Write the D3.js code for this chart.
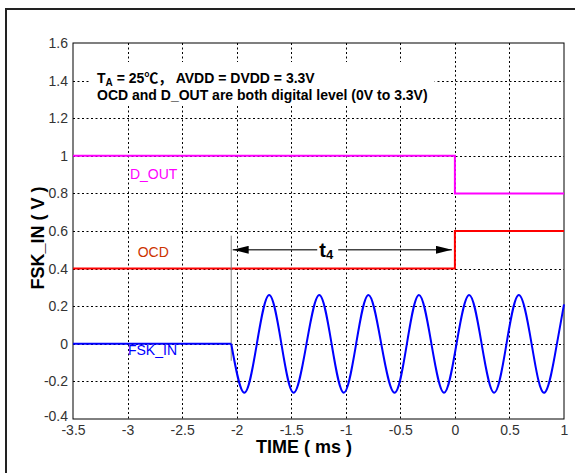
<!DOCTYPE html>
<html>
<head>
<meta charset="utf-8">
<script src="https://cdn.jsdelivr.net/npm/d3@7.9.0/dist/d3.min.js"></script>
<style>
  body { margin: 0; background: #fff; }
  svg { display: block; font-family: Arial, "Liberation Sans", "Noto Sans CJK SC", sans-serif; }
</style>
</head>
<body>
<div id="chart"></div>
<script>
// data
const xTicks = [-3.5, -3, -2.5, -2, -1.5, -1, -0.5, 0, 0.5, 1];
const yTicks = [-0.4, -0.2, 0, 0.2, 0.4, 0.6, 0.8, 1, 1.2, 1.4, 1.6];

const doutT = [-3.5, 0, 0, 1];
const doutV = [1, 1, 0.8, 0.8];

const ocdT = [-3.5, 0, 0, 1];
const ocdV = [0.4, 0.4, 0.6, 0.6];

// FSK_IN: flat until burst starts, then peaks / troughs / zero crossings
const fskFlatT = [-3.5, -2.05];
const fskFlatV = [0, 0];
const fskT = [-2.05, -1.93, -1.815, -1.702, -1.59, -1.478, -1.36, -1.243, -1.13, -1.018,
  -0.905, -0.792, -0.675, -0.553, -0.44, -0.329, -0.215, -0.099, 0.015, 0.131,
  0.245, 0.36, 0.473, 0.586, 0.703, 0.82, 0.935, 1.0];
const fskV = [0, -0.26, 0, 0.26, 0, -0.26, 0, 0.26, 0, -0.26,
  0, 0.26, 0, -0.26, 0, 0.26, 0, -0.26, 0, 0.26,
  0, -0.26, 0, 0.26, 0, -0.26, 0, 0.21];

// t4 marker
const t4Start = -2.05, t4End = 0, t4Level = 0.5;
const markerV = [-0.09, 0.575];

const width = 575,
  height = 473;

const svg = d3
  .select("#chart")
  .append("svg")
  .attr("width", width)
  .attr("height", height);

const x = d3.scaleLinear().domain([-3.5, 1]).range([73, 564]);
const y = d3.scaleLinear().domain([-0.4, 1.6]).range([419, 43]);

// outer frame (only top + left visible)
svg.append("path")
  .attr("d", `M6,${height} L6,9 L${width},9`)
  .attr("fill", "none")
  .attr("stroke", "#222")
  .attr("stroke-width", 2);

// grid
const grid = svg.append("g").attr("stroke", "#000").attr("stroke-width", 1)
  .attr("stroke-dasharray", "2,2.5");
grid.selectAll(".gx")
  .data(xTicks.slice(1, -1))
  .join("line")
  .attr("x1", (d) => Math.round(x(d)) + 0.5)
  .attr("x2", (d) => Math.round(x(d)) + 0.5)
  .attr("y1", y(1.6))
  .attr("y2", y(-0.4));
grid.selectAll(".gy")
  .data(yTicks.slice(1, -1))
  .join("line")
  .attr("y1", (d) => Math.round(y(d)) + 0.5)
  .attr("y2", (d) => Math.round(y(d)) + 0.5)
  .attr("x1", x(-3.5))
  .attr("x2", x(1));

// annotation (white box covers grid)
const note = svg.append("g");
const noteBg = note.append("rect").attr("fill", "#fff");
const n1 = note.append("text")
  .attr("x", 97).attr("y", 83)
  .style("font-size", "14px").style("font-weight", "bold");
n1.append("tspan").text("T");
n1.append("tspan").attr("dy", 3).style("font-size", "10px").text("A");
n1.append("tspan").attr("dy", -3).text(" = 25\u2103\uFF0C AVDD = DVDD = 3.3V");
const n2 = note.append("text")
  .attr("x", 97).attr("y", 100)
  .style("font-size", "14px").style("font-weight", "bold")
  .text("OCD and D_OUT are both digital level (0V to 3.3V)");
const bb = note.node().getBBox();
noteBg.attr("x", bb.x - 7).attr("y", bb.y - 8)
  .attr("width", bb.width + 14).attr("height", bb.height + 11);

// plot box
svg.append("rect")
  .attr("x", x(-3.5)).attr("y", y(1.6))
  .attr("width", x(1) - x(-3.5)).attr("height", y(-0.4) - y(1.6))
  .attr("fill", "none").attr("stroke", "#000").attr("stroke-width", 1);

// axes
const xAxis = svg.append("g")
  .attr("transform", `translate(0,${y(-0.4)})`)
  .call(d3.axisBottom(x).tickValues(xTicks).tickSize(0).tickPadding(6)
    .tickFormat((d) => d));
const yAxis = svg.append("g")
  .attr("transform", `translate(${x(-3.5)},0)`)
  .call(d3.axisLeft(y).tickValues(yTicks).tickSize(0).tickPadding(5)
    .tickFormat((d) => d));
[xAxis, yAxis].forEach((a) => {
  a.select(".domain").remove();
  a.selectAll("text")
    .attr("fill", "#333")
    .style("font-size", "14px")
    .style("font-family", "Arial, 'Liberation Sans', sans-serif");
});
// lowest y label sits a touch higher, as in the original
yAxis.selectAll(".tick text").filter((d) => d === -0.4).attr("dy", "0.1em");

// signals
const line = d3.line().x((d) => x(d[0])).y((d) => y(d[1]));
const zip = (a, b) => a.map((d, i) => [d, b[i]]);

svg.append("path")
  .datum(zip(doutT, doutV))
  .attr("d", line)
  .attr("fill", "none").attr("stroke", "#ff00ff").attr("stroke-width", 2);

svg.append("path")
  .datum(zip(ocdT, ocdV))
  .attr("d", line)
  .attr("fill", "none").attr("stroke", "#ff0000").attr("stroke-width", 2);

// thin grey marker at burst start
svg.append("line")
  .attr("x1", x(t4Start)).attr("x2", x(t4Start))
  .attr("y1", y(markerV[0])).attr("y2", y(markerV[1]))
  .attr("stroke", "#808080").attr("stroke-width", 1);

svg.append("path")
  .datum(zip(fskFlatT, fskFlatV))
  .attr("d", line)
  .attr("fill", "none").attr("stroke", "#0000ff").attr("stroke-width", 2);

svg.append("path")
  .datum(zip(fskT, fskV))
  .attr("d", line.curve(d3.curveNatural))
  .attr("fill", "none").attr("stroke", "#0000ff").attr("stroke-width", 2);

// t4 arrow
const defs = svg.append("defs");
["start", "end"].forEach((k) => {
  defs.append("marker")
    .attr("id", "arr-" + k)
    .attr("markerUnits", "userSpaceOnUse")
    .attr("markerWidth", 16).attr("markerHeight", 8)
    .attr("refX", k === "end" ? 16 : 0).attr("refY", 4)
    .attr("orient", "auto")
    .append("path")
    .attr("d", k === "end" ? "M0,0 L16,4 L0,8 Z" : "M16,0 L0,4 L16,8 Z")
    .attr("fill", "#000");
});
svg.append("line")
  .attr("x1", x(t4Start) + 1.5).attr("x2", x(t4End) - 3)
  .attr("y1", y(t4Level)).attr("y2", y(t4Level))
  .attr("stroke", "#444").attr("stroke-width", 1.5)
  .attr("marker-start", "url(#arr-start)")
  .attr("marker-end", "url(#arr-end)");
const tx = x(-1.17);
svg.append("rect")
  .attr("x", tx - 10).attr("y", y(t4Level) - 4)
  .attr("width", 21).attr("height", 8)
  .attr("fill", "#fff");
const tl = svg.append("text")
  .attr("x", tx - 8).attr("y", 257)
  .style("font-weight", "bold");
tl.append("tspan").style("font-size", "20px").text("t");
tl.append("tspan").attr("dy", 2).style("font-size", "13px").text("4");

// series labels
const labels = [
  { text: "D_OUT", t: -2.978, v: 0.875, color: "#ff00ff" },
  { text: "OCD", t: -2.907, v: 0.46, color: "#cc3300" },
  { text: "FSK_IN", t: -2.996, v: -0.058, color: "#0000ff" },
];
svg.selectAll(".lbl")
  .data(labels)
  .join("text")
  .attr("x", (d) => x(d.t))
  .attr("y", (d) => y(d.v))
  .attr("fill", (d) => d.color)
  .style("font-size", "14px")
  .text((d) => d.text);

// axis titles
svg.append("text")
  .attr("x", 304).attr("y", 453)
  .attr("text-anchor", "middle")
  .style("font-size", "18px").style("font-weight", "bold")
  .text("TIME ( ms )");
svg.append("text")
  .attr("transform", "translate(44,238) rotate(-90)")
  .attr("text-anchor", "middle")
  .style("font-size", "18px").style("font-weight", "bold")
  .text("FSK_IN ( V )");
</script>
</body>
</html>
